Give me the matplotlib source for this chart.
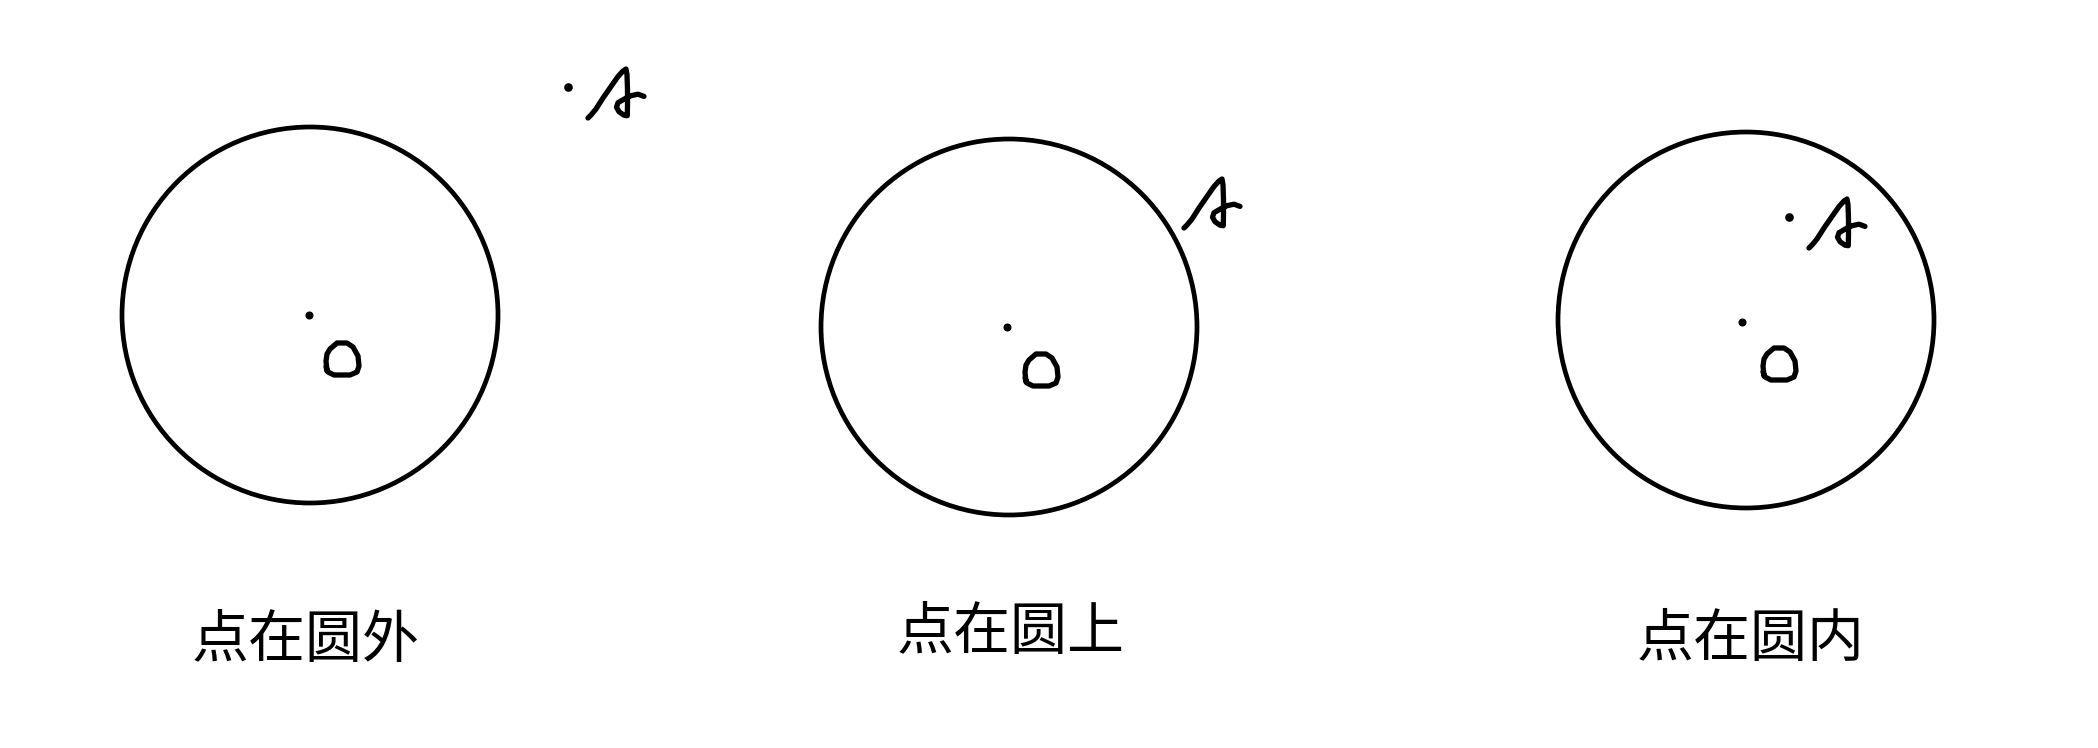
import matplotlib
matplotlib.use("Agg")
import matplotlib.pyplot as plt
from matplotlib.patches import Circle

plt.rcParams["font.family"] = ["Noto Sans CJK SC", "DejaVu Sans"]

# three panels: point outside / on / inside the circle (pixel-like coords, y down)
labels = ["点在圆外", "点在圆上", "点在圆内"]
label_x = [306, 1011, 1751]
label_y = [641, 633, 640]

circle_x = [310, 1009, 1746]
circle_y = [315, 327, 320]
circle_r = [188, 188, 188]

center_dot_x = [309, 1007, 1742]
center_dot_y = [315, 327, 322]

# handwritten "O" next to the centre
o_x = [342, 1041, 1779]
o_y = [359, 370, 364]
o_shape_dx = [-15, -16, -15, -12, -5, 5, 11, 16, 17, 15, 8, -8, -14, -16]
o_shape_dy = [12, 2, -5, -10, -16, -16, -12, -3, 7, 13, 16, 16, 13, 8]

# handwritten "A" (anchor = top of the letter)
a_x = [626, 1222, 1847]
a_y = [69, 179, 199]
a_shape_dx = [-38, -35, -30, -23, -15, -8, -3, 0, 1, 1.5, 1.5, 1.3,
              -2, -7, -9.5, -8, -2, 5, 12, 18]
a_shape_dy = [49, 46, 40, 29, 17.5, 7.5, 2, 0, 5.7, 20.7, 35.7, 46.7,
              46.2, 42.7, 38.2, 33.7, 30.2, 26.7, 25.2, 27.4]

# point A itself (on the circle in the middle panel, so no extra dot there)
a_dot_x = [568, 1789]
a_dot_y = [87, 217]

fig = plt.figure(figsize=(20.98, 7.48), dpi=100)
ax = fig.add_axes([0, 0, 1, 1])
ax.set_xlim(0, 2098)
ax.set_ylim(748, 0)
ax.set_axis_off()
fig.patch.set_facecolor("white")

for i in range(3):
    ax.add_patch(Circle((circle_x[i], circle_y[i]), circle_r[i],
                        fill=False, edgecolor="black", linewidth=3.4))
    ax.plot(center_dot_x[i], center_dot_y[i], "o", color="black", markersize=4.8)

    ox = [o_x[i] + d for d in o_shape_dx]
    oy = [o_y[i] + d for d in o_shape_dy]
    ax.plot(ox, oy, color="black", linewidth=3.8,
            solid_capstyle="round", solid_joinstyle="round")

    ax_ = [a_x[i] + d for d in a_shape_dx]
    ay_ = [a_y[i] + d for d in a_shape_dy]
    ax.plot(ax_, ay_, color="black", linewidth=3.8,
            solid_capstyle="round", solid_joinstyle="round")

    ax.text(label_x[i], label_y[i], labels[i], fontsize=41, fontweight="medium",
            ha="center", va="center", color="black")

ax.plot(a_dot_x, a_dot_y, "o", color="black", markersize=5.2, linestyle="none")

fig.savefig("out.png", dpi=100, facecolor="white")
